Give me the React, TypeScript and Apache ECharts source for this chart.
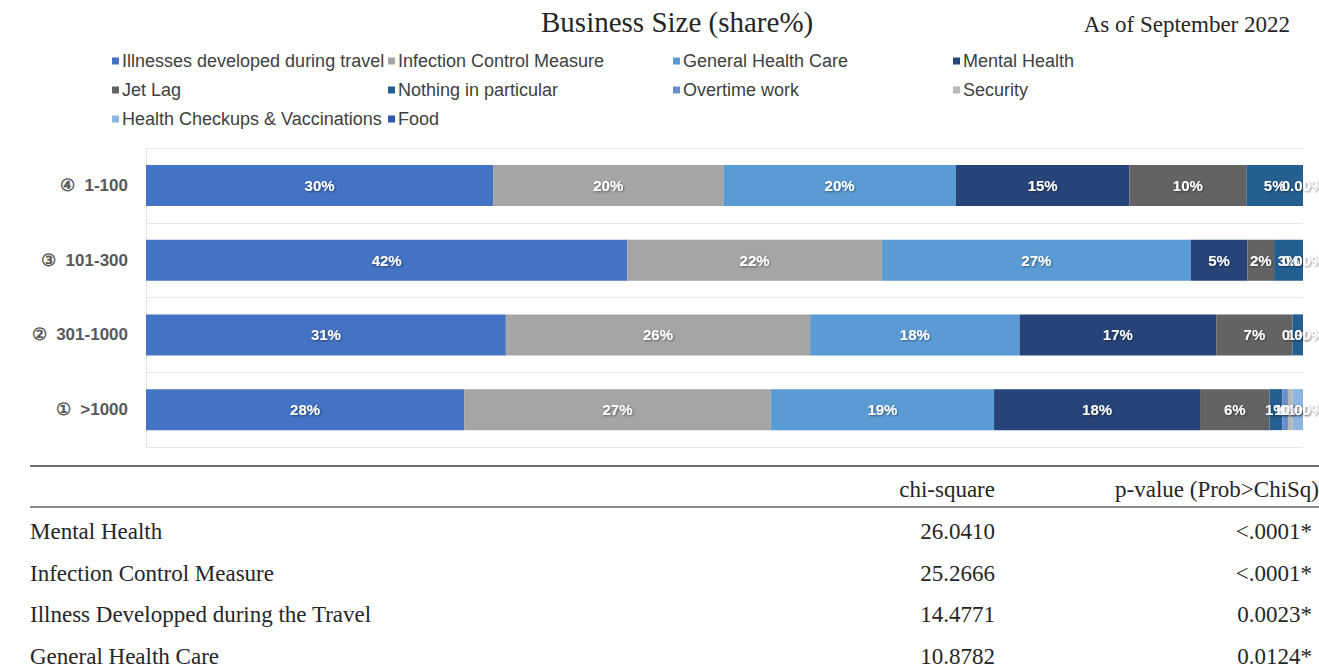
import React, { useEffect, useRef } from "react";
import * as echarts from "echarts";

// ---- data ----
const categories = ["④  1-100", "③  101-300", "②  301-1000", "①  >1000"];
const seriesNames = [
  "Illnesses developed during travel",
  "Infection Control Measure",
  "General Health Care",
  "Mental Health",
  "Jet Lag",
  "Nothing in particular",
  "Overtime work",
  "Security",
  "Health Checkups & Vaccinations",
  "Food",
];
const illnesses = [30.0, 41.6, 31.1, 27.5];
const infection = [19.9, 22.0, 26.3, 26.5];
const generalCare = [20.1, 26.7, 18.1, 19.3];
const mental = [15.0, 4.9, 17.0, 17.8];
const jetLag = [10.1, 2.3, 6.6, 6.0];
const nothing = [4.9, 2.5, 0.9, 1.1];
const overtime = [0, 0, 0, 0.5];
const security = [0, 0, 0, 0.4];
const checkups = [0, 0, 0, 0.9];
const food = [0, 0, 0, 0];
const seriesValues = [illnesses, infection, generalCare, mental, jetLag, nothing, overtime, security, checkups, food];
const colors = ["#4472C4", "#A5A5A5", "#5B9BD5", "#264478", "#636363", "#255E91", "#698ED0", "#B7B7B7", "#8CB5E0", "#3358A8"];

const legendColumns = [
  ["Illnesses developed during travel", "Jet Lag", "Health Checkups & Vaccinations"],
  ["Infection Control Measure", "Nothing in particular", "Food"],
  ["General Health Care", "Overtime work"],
  ["Mental Health", "Security"],
];
const legendLefts = [112, 388, 673, 953];

const tableHeaders = ["chi-square", "p-value (Prob>ChiSq)"];
const tableRows = ["Mental Health", "Infection Control Measure", "Illness Developped during the Travel", "General Health Care"];
const chiSquare = ["26.0410", "25.2666", "14.4771", "10.8782"];
const pValues = ["<.0001*", "<.0001*", "0.0023*", "0.0124*"];

const title = "Business Size (share%)";
const subtitle = "As of September 2022";

export default function App() {
  const ref = useRef<HTMLDivElement>(null);
  useEffect(() => {
    if (!ref.current) return;
    const chart = echarts.init(ref.current, null, { renderer: "svg" });
    const serif = "'Liberation Serif', 'Times New Roman', serif";
    const sans = "'Liberation Sans', Arial, sans-serif";
    const rowY = [531, 573, 614, 656];
    const tf = `23px ${serif}`;
    const graphics: any[] = [
      { type: "text", left: 541, top: 7, style: { text: title, font: `29px ${serif}`, fill: "#262626" } },
      { type: "text", right: 29, top: 13, style: { text: subtitle, font: `23px ${serif}`, fill: "#262626" } },
      { type: "line", shape: { x1: 30, y1: 466, x2: 1319, y2: 466 }, style: { stroke: "#6e6e6e", lineWidth: 2 } },
      { type: "line", shape: { x1: 30, y1: 507, x2: 1319, y2: 507 }, style: { stroke: "#8a8a8a", lineWidth: 2 } },
      { type: "text", x: 995, y: 489, style: { text: tableHeaders[0], font: tf, fill: "#262626", align: "right", verticalAlign: "middle" } },
      { type: "text", x: 1319, y: 489, style: { text: tableHeaders[1], font: tf, fill: "#262626", align: "right", verticalAlign: "middle" } },
    ];
    tableRows.forEach((r, i) => {
      graphics.push({ type: "text", x: 30, y: rowY[i], style: { text: r, font: tf, fill: "#262626", verticalAlign: "middle" } });
      graphics.push({ type: "text", x: 995, y: rowY[i], style: { text: chiSquare[i], font: tf, fill: "#262626", align: "right", verticalAlign: "middle" } });
      graphics.push({ type: "text", x: 1312, y: rowY[i], style: { text: pValues[i], font: tf, fill: "#262626", align: "right", verticalAlign: "middle" } });
    });

    // a zero-width segment shows "0.00%" once per row (all such labels sit at the same spot)
    const firstZero = categories.map((_, r) => seriesValues.findIndex((s) => s[r] === 0));

    chart.setOption({
      animation: false,
      backgroundColor: "#ffffff",
      color: colors,
      graphic: graphics,
      legend: legendColumns.map((col, i) => ({
        data: col,
        orient: "vertical",
        left: legendLefts[i],
        top: 52,
        itemWidth: 7,
        itemHeight: 7,
        itemGap: 11,
        icon: "rect",
        selectedMode: false,
        padding: 0,
        textStyle: { fontSize: 18, color: "#404040", fontFamily: sans, padding: [0, 0, 0, -2] },
      })),
      grid: { left: 146, right: 16, top: 148, bottom: 223, containLabel: false },
      xAxis: { type: "value", min: 0, max: 100, show: false },
      yAxis: {
        type: "category",
        data: categories,
        inverse: true,
        axisTick: { show: false },
        axisLine: { show: true, lineStyle: { color: "#E3E3E3" } },
        splitLine: { show: true, lineStyle: { color: "#E8E8E8" } },
        axisLabel: { margin: 18, fontSize: 17, fontWeight: "bold", color: "#595959", fontFamily: sans },
      },
      series: seriesNames.map((name, i) => ({
        name,
        type: "bar",
        stack: "total",
        barWidth: 41,
        data: seriesValues[i],
        label: {
          show: true,
          position: "inside",
          color: "#ffffff",
          fontSize: 15,
          fontWeight: "bold",
          fontFamily: sans,
          textShadowColor: "rgba(0,0,0,0.45)",
          textShadowBlur: 2,
          textShadowOffsetX: 1,
          textShadowOffsetY: 1,
          formatter: (p: any) => {
            if (p.value === 0) return firstZero[p.dataIndex] === i ? "0.00%" : "";
            return Math.round(p.value) + "%";
          },
        },
      })),
    });
    return () => chart.dispose();
  }, []);
  return <div ref={ref} style={{ position: "absolute", left: 0, top: 0, width: 1319, height: 670 }} />;
}
